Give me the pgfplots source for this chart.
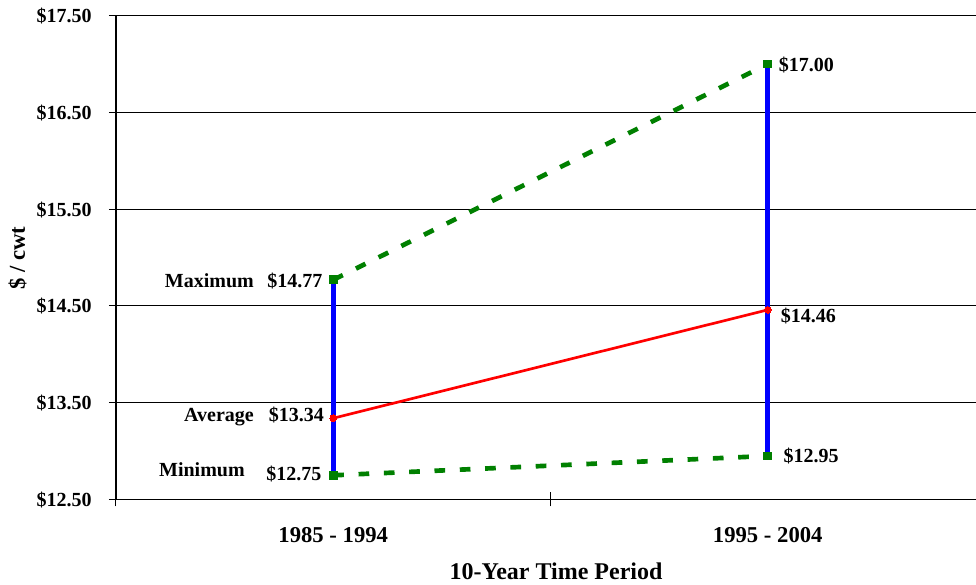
\documentclass[border=0pt]{standalone}
\usepackage{fontspec}
\setmainfont{Liberation Serif}
\usepackage{pgfplots}
\pgfplotsset{compat=1.18}
\definecolor{xlgreen}{RGB}{0,128,0}
\definecolor{xlblue}{RGB}{0,0,255}
\definecolor{xlred}{RGB}{255,0,0}
\newcommand{\lblfont}{\fontsize{15}{18}\selectfont\bfseries}
\newcommand{\bt}[1]{{\fontsize{15}{18}\fontseries{b}\selectfont #1}}
\begin{document}
\begin{tikzpicture}
\begin{axis}[
  at={(87pt,64.125pt)}, anchor=south west,
  scale only axis, width=651.75pt, height=362.85pt,
  xmin=0, xmax=2, ymin=12.5, ymax=17.5,
  axis lines=left, axis line style={-, black, line width=1pt},
  xtick={0,1,2}, xticklabels={},
  ytick={12.5,13.5,14.5,15.5,16.5,17.5},
  yticklabels={\bt{\$12.50},\bt{\$13.50},\bt{\$14.50},\bt{\$15.50},\bt{\$16.50},\bt{\$17.50}},
  tick align=center, major tick length=10.5pt,
  tick style={black, line width=0.75pt},
  ymajorgrids, grid style={black, line width=0.75pt},
  every y tick label/.append style={font=\lblfont},
  yticklabel style={font=\lblfont, anchor=base east, inner sep=0pt, xshift=-12.75pt, yshift=-5.25pt},
  extra x ticks={0.5,1.5},
  extra x tick labels={\textbf{1985 - 1994}, \textbf{1995 - 2004}},
  extra x tick style={major tick length=0pt, xticklabel style={font=\fontsize{17}{20}\selectfont\bfseries, anchor=base, inner sep=0pt, yshift=-32.6pt}},
  clip=false,
]
% range bars
\addplot[xlblue, line width=3.75pt] coordinates {(0.5,12.75) (0.5,14.77)};
\addplot[xlblue, line width=3.75pt] coordinates {(1.5,12.95) (1.5,17.00)};
% maximum
\addplot[xlgreen, line width=3.5pt, dash pattern=on 8pt off 11pt, mark=square*, mark size=2.9pt, mark options={solid, line width=0pt}] coordinates {(0.5,14.77) (1.5,17.00)};
% minimum
\addplot[xlgreen, line width=3.5pt, dash pattern=on 8pt off 11pt, mark=square*, mark size=2.9pt, mark options={solid, line width=0pt}] coordinates {(0.5,12.75) (1.5,12.95)};
% average
\addplot[xlred, line width=2pt, mark=*, mark size=2.5pt, mark options={solid, line width=0pt}] coordinates {(0.5,13.34) (1.5,14.46)};

\node[font=\lblfont, anchor=base east, inner sep=0pt, xshift=-7.9pt, yshift=-5.6pt] at (axis cs:0.5,14.77) {\$14.77};
\node[font=\lblfont, anchor=base east, inner sep=0pt, xshift=-59.4pt, yshift=-5.6pt] at (axis cs:0.5,14.77) {Maximum};
\node[font=\lblfont, anchor=base east, inner sep=0pt, xshift=-6.9pt, yshift=-2.6pt] at (axis cs:0.5,13.34) {\$13.34};
\node[font=\lblfont, anchor=base east, inner sep=0pt, xshift=-59.4pt, yshift=-2.6pt] at (axis cs:0.5,13.34) {Average};
\node[font=\lblfont, anchor=base east, inner sep=0pt, xshift=-8.7pt, yshift=-4pt] at (axis cs:0.5,12.75) {\$12.75};
\node[font=\lblfont, anchor=base east, inner sep=0pt, xshift=-66.2pt, yshift=-1pt] at (axis cs:0.5,12.75) {Minimum};
\node[font=\lblfont, anchor=base west, inner sep=0pt, xshift=8.2pt, yshift=-5.85pt] at (axis cs:1.5,17.00) {\$17.00};
\node[font=\lblfont, anchor=base west, inner sep=0pt, xshift=9.7pt, yshift=-9.7pt] at (axis cs:1.5,14.46) {\$14.46};
\node[font=\lblfont, anchor=base west, inner sep=0pt, xshift=11.7pt, yshift=-5.1pt] at (axis cs:1.5,12.95) {\$12.95};
\end{axis}
\node[font=\fontsize{18}{21}\selectfont\bfseries, anchor=base, inner sep=0pt] at (417pt,3.75pt) {10-Year Time Period};
\node[font=\fontsize{17}{20}\selectfont\bfseries, anchor=base, inner sep=0pt, rotate=90] at (18.75pt,244.9pt) {\$ / cwt};
\pgfresetboundingbox
\path (0,0) rectangle (732pt,438.75pt);
\end{tikzpicture}
\end{document}
